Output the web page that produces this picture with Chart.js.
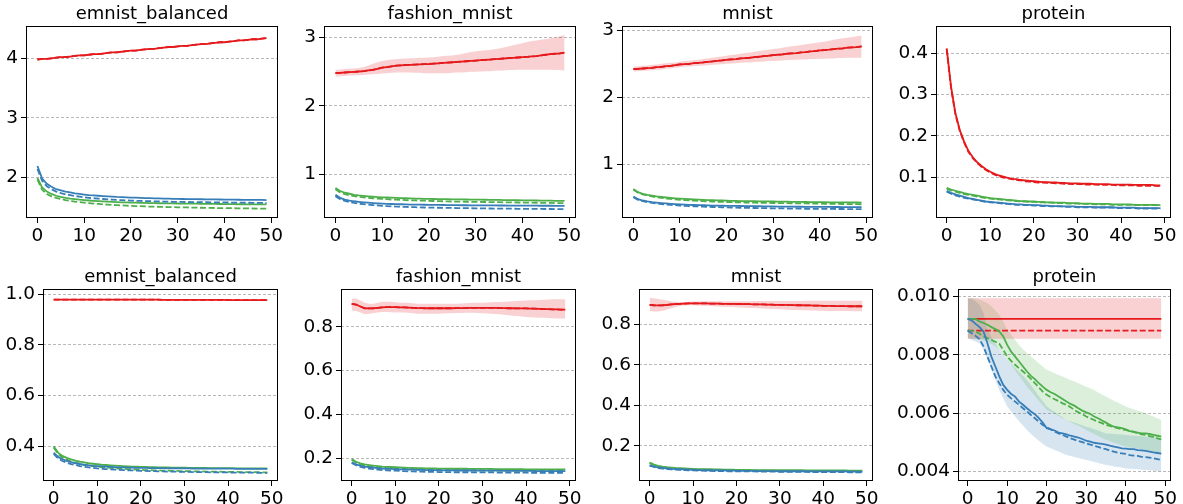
<!DOCTYPE html>
<html><head><meta charset="utf-8">
<script src="https://cdn.jsdelivr.net/npm/chart.js@4.4.1/dist/chart.umd.min.js"></script>
<style>
html,body{margin:0;padding:0;background:#fff;width:1183px;height:504px;overflow:hidden;position:relative}
canvas{position:absolute}
</style>
</head><body>
<script>
// ---------- data ----------
const epochs = [0,1,2,3,4,5,6,7,8,9,10,11,12,13,14,15,16,17,18,19,20,21,22,23,24,25,26,27,28,29,30,31,32,33,34,35,36,37,38,39,40,41,42,43,44,45,46,47,48,49];
const titles = ['emnist_balanced','fashion_mnist','mnist','protein','emnist_balanced','fashion_mnist','mnist','protein'];
const xTickValues = [0,10,20,30,40,50];
const xTickLabels = ['0','10','20','30','40','50'];
const yTickValues = [[2,3,4],[1,2,3],[1,2,3],[0.1,0.2,0.3,0.4],[0.4,0.6,0.8,1.0],[0.2,0.4,0.6,0.8],[0.2,0.4,0.6,0.8],[0.004,0.006,0.008,0.010]];
const yTickLabels = [['2','3','4'],['1','2','3'],['1','2','3'],['0.1','0.2','0.3','0.4'],['0.4','0.6','0.8','1.0'],['0.2','0.4','0.6','0.8'],['0.2','0.4','0.6','0.8'],['0.004','0.006','0.008','0.010']];

// panel 1: emnist_balanced (top)
const p1RedSolid = [3.98,3.99,3.99,4.00,4.01,4.02,4.02,4.03,4.04,4.05,4.05,4.06,4.07,4.07,4.08,4.09,4.10,4.10,4.11,4.12,4.13,4.13,4.14,4.15,4.16,4.16,4.17,4.18,4.19,4.19,4.20,4.21,4.21,4.22,4.23,4.24,4.24,4.25,4.26,4.27,4.27,4.28,4.29,4.30,4.30,4.31,4.32,4.32,4.33,4.34];
const p1RedDash = [3.98,3.99,3.99,4.00,4.01,4.02,4.02,4.03,4.04,4.05,4.05,4.06,4.07,4.07,4.08,4.09,4.10,4.10,4.11,4.12,4.13,4.13,4.14,4.15,4.16,4.16,4.17,4.18,4.19,4.19,4.20,4.21,4.21,4.22,4.23,4.24,4.24,4.25,4.26,4.27,4.27,4.28,4.29,4.30,4.30,4.31,4.32,4.32,4.33,4.34];
const p1BlueSolid = [2.19,1.98,1.89,1.84,1.80,1.78,1.76,1.745,1.73,1.72,1.71,1.70,1.695,1.69,1.685,1.68,1.675,1.67,1.667,1.663,1.66,1.657,1.654,1.651,1.649,1.647,1.645,1.643,1.641,1.639,1.637,1.635,1.634,1.633,1.632,1.631,1.630,1.629,1.628,1.627,1.626,1.625,1.624,1.623,1.622,1.621,1.620,1.620,1.619,1.618];
const p1BlueDash = [2.14,1.94,1.85,1.80,1.76,1.735,1.715,1.70,1.685,1.675,1.665,1.655,1.648,1.641,1.635,1.630,1.625,1.620,1.616,1.612,1.609,1.606,1.603,1.600,1.598,1.596,1.594,1.592,1.590,1.588,1.587,1.586,1.585,1.584,1.583,1.582,1.581,1.580,1.579,1.578,1.577,1.576,1.575,1.574,1.573,1.572,1.571,1.570,1.569,1.568];
const p1GreenSolid = [1.99,1.83,1.76,1.72,1.69,1.67,1.655,1.643,1.633,1.624,1.617,1.610,1.604,1.599,1.594,1.590,1.586,1.583,1.580,1.577,1.575,1.573,1.571,1.569,1.567,1.565,1.564,1.563,1.562,1.561,1.560,1.559,1.558,1.557,1.556,1.555,1.554,1.553,1.552,1.551,1.550,1.549,1.548,1.547,1.547,1.546,1.546,1.545,1.545,1.544];
const p1GreenDash = [1.96,1.79,1.72,1.68,1.655,1.635,1.618,1.604,1.592,1.582,1.573,1.565,1.558,1.552,1.546,1.541,1.536,1.532,1.528,1.524,1.520,1.517,1.514,1.511,1.508,1.506,1.504,1.502,1.500,1.498,1.496,1.494,1.493,1.491,1.490,1.488,1.487,1.486,1.484,1.483,1.482,1.481,1.480,1.479,1.478,1.477,1.476,1.475,1.474,1.473];

// panel 2: fashion_mnist (top)
const p2RedSolid = [2.48,2.485,2.49,2.495,2.50,2.505,2.51,2.52,2.53,2.545,2.56,2.57,2.58,2.59,2.595,2.60,2.603,2.606,2.609,2.612,2.615,2.62,2.625,2.63,2.635,2.64,2.645,2.65,2.655,2.66,2.665,2.67,2.675,2.68,2.685,2.69,2.695,2.70,2.705,2.71,2.715,2.72,2.725,2.73,2.74,2.75,2.76,2.765,2.77,2.78];
const p2RedDash = [2.48,2.485,2.49,2.495,2.50,2.505,2.51,2.52,2.53,2.545,2.56,2.57,2.58,2.59,2.595,2.60,2.603,2.606,2.609,2.612,2.615,2.62,2.625,2.63,2.635,2.64,2.645,2.65,2.655,2.66,2.665,2.67,2.675,2.68,2.685,2.69,2.695,2.70,2.705,2.71,2.715,2.72,2.725,2.73,2.74,2.75,2.76,2.765,2.77,2.78];
const p2RedHi = [2.53,2.535,2.54,2.545,2.55,2.555,2.57,2.59,2.62,2.64,2.66,2.67,2.68,2.685,2.69,2.695,2.70,2.70,2.705,2.705,2.71,2.715,2.72,2.73,2.735,2.74,2.75,2.76,2.775,2.79,2.80,2.81,2.815,2.82,2.83,2.84,2.855,2.87,2.89,2.905,2.92,2.935,2.95,2.96,2.97,2.98,2.99,3.00,3.02,3.04];
const p2RedLo = [2.43,2.435,2.44,2.445,2.45,2.45,2.455,2.46,2.465,2.47,2.475,2.48,2.485,2.49,2.49,2.49,2.49,2.485,2.485,2.48,2.48,2.48,2.48,2.48,2.48,2.485,2.49,2.49,2.495,2.50,2.50,2.505,2.51,2.51,2.515,2.52,2.52,2.525,2.525,2.53,2.53,2.53,2.53,2.53,2.53,2.53,2.53,2.525,2.525,2.52];
const p2GreenSolid = [0.80,0.755,0.73,0.715,0.70,0.69,0.683,0.677,0.672,0.667,0.663,0.66,0.657,0.654,0.651,0.649,0.647,0.645,0.643,0.641,0.639,0.638,0.637,0.636,0.635,0.634,0.633,0.632,0.631,0.630,0.629,0.628,0.627,0.626,0.625,0.624,0.623,0.622,0.621,0.620,0.619,0.618,0.617,0.616,0.615,0.614,0.613,0.612,0.611,0.610];
const p2GreenDash = [0.78,0.735,0.71,0.693,0.68,0.67,0.662,0.655,0.649,0.644,0.639,0.635,0.631,0.628,0.625,0.622,0.619,0.617,0.615,0.613,0.611,0.609,0.607,0.605,0.603,0.601,0.600,0.599,0.598,0.597,0.596,0.595,0.594,0.593,0.592,0.591,0.590,0.589,0.588,0.587,0.586,0.585,0.584,0.583,0.582,0.581,0.580,0.579,0.578,0.577];
const p2BlueSolid = [0.70,0.655,0.63,0.615,0.605,0.597,0.59,0.584,0.579,0.575,0.571,0.568,0.565,0.563,0.561,0.559,0.557,0.556,0.555,0.554,0.553,0.552,0.551,0.550,0.549,0.548,0.548,0.547,0.547,0.546,0.546,0.545,0.545,0.544,0.544,0.543,0.543,0.542,0.542,0.541,0.541,0.540,0.540,0.540,0.539,0.539,0.539,0.538,0.538,0.538];
const p2BlueDash = [0.68,0.635,0.61,0.593,0.58,0.57,0.562,0.555,0.549,0.544,0.539,0.535,0.531,0.528,0.525,0.522,0.52,0.518,0.516,0.514,0.512,0.511,0.51,0.509,0.508,0.507,0.506,0.505,0.504,0.503,0.502,0.501,0.500,0.499,0.498,0.497,0.497,0.496,0.496,0.495,0.495,0.494,0.494,0.493,0.493,0.492,0.492,0.491,0.491,0.490];

// panel 3: mnist (top)
const p3RedSolid = [2.42,2.425,2.43,2.435,2.44,2.45,2.455,2.465,2.47,2.48,2.49,2.495,2.50,2.51,2.515,2.52,2.53,2.535,2.545,2.55,2.56,2.565,2.57,2.58,2.585,2.59,2.60,2.605,2.615,2.62,2.63,2.635,2.64,2.65,2.655,2.66,2.67,2.675,2.685,2.69,2.70,2.705,2.71,2.72,2.725,2.73,2.74,2.745,2.75,2.76];
const p3RedDash = [2.42,2.425,2.43,2.435,2.44,2.45,2.455,2.465,2.47,2.48,2.49,2.495,2.50,2.51,2.515,2.52,2.53,2.535,2.545,2.55,2.56,2.565,2.57,2.58,2.585,2.59,2.60,2.605,2.615,2.62,2.63,2.635,2.64,2.65,2.655,2.66,2.67,2.675,2.685,2.69,2.70,2.705,2.71,2.72,2.725,2.73,2.74,2.745,2.75,2.76];
const p3RedHi = [2.46,2.465,2.47,2.475,2.485,2.49,2.50,2.51,2.515,2.52,2.53,2.54,2.545,2.555,2.56,2.57,2.58,2.59,2.60,2.61,2.62,2.63,2.64,2.65,2.66,2.67,2.68,2.69,2.70,2.71,2.72,2.73,2.74,2.75,2.76,2.77,2.78,2.79,2.80,2.81,2.82,2.83,2.845,2.86,2.87,2.88,2.89,2.90,2.91,2.92];
const p3RedLo = [2.385,2.39,2.395,2.40,2.405,2.41,2.415,2.425,2.43,2.44,2.45,2.455,2.46,2.465,2.47,2.475,2.48,2.485,2.49,2.495,2.50,2.505,2.51,2.515,2.52,2.52,2.525,2.53,2.535,2.54,2.54,2.545,2.55,2.555,2.56,2.56,2.565,2.565,2.57,2.57,2.575,2.575,2.58,2.58,2.585,2.585,2.59,2.59,2.59,2.59];
const p3GreenSolid = [0.63,0.585,0.56,0.545,0.533,0.522,0.513,0.505,0.498,0.492,0.487,0.483,0.479,0.475,0.472,0.469,0.466,0.464,0.462,0.460,0.458,0.456,0.454,0.452,0.451,0.450,0.449,0.448,0.447,0.446,0.445,0.444,0.443,0.442,0.441,0.440,0.439,0.438,0.437,0.436,0.435,0.434,0.433,0.432,0.432,0.431,0.431,0.430,0.430,0.429];
const p3GreenDash = [0.62,0.575,0.55,0.533,0.52,0.508,0.498,0.49,0.483,0.477,0.471,0.466,0.462,0.458,0.454,0.451,0.448,0.445,0.442,0.440,0.438,0.436,0.434,0.432,0.430,0.428,0.427,0.426,0.425,0.424,0.423,0.422,0.421,0.420,0.419,0.418,0.417,0.416,0.415,0.414,0.413,0.412,0.411,0.410,0.409,0.408,0.407,0.406,0.405,0.404];
const p3BlueSolid = [0.52,0.48,0.46,0.447,0.437,0.429,0.422,0.416,0.411,0.406,0.402,0.399,0.396,0.393,0.391,0.389,0.387,0.385,0.383,0.382,0.381,0.380,0.379,0.378,0.377,0.376,0.375,0.374,0.373,0.372,0.371,0.370,0.369,0.368,0.368,0.367,0.367,0.366,0.366,0.365,0.365,0.364,0.364,0.363,0.363,0.362,0.362,0.361,0.361,0.360];
const p3BlueDash = [0.51,0.47,0.45,0.436,0.425,0.416,0.408,0.401,0.395,0.39,0.385,0.381,0.377,0.374,0.371,0.368,0.365,0.363,0.361,0.359,0.357,0.355,0.353,0.351,0.350,0.349,0.348,0.347,0.346,0.345,0.344,0.343,0.342,0.341,0.340,0.339,0.338,0.337,0.336,0.336,0.335,0.335,0.334,0.334,0.333,0.333,0.332,0.332,0.331,0.331];

// panel 4: protein (top)
const p4RedSolid = [0.412,0.319,0.255,0.214,0.186,0.163,0.148,0.136,0.127,0.119,0.113,0.108,0.104,0.101,0.098,0.096,0.095,0.093,0.092,0.091,0.090,0.089,0.088,0.088,0.087,0.087,0.086,0.086,0.085,0.085,0.085,0.084,0.084,0.084,0.083,0.083,0.083,0.083,0.082,0.082,0.082,0.082,0.082,0.081,0.081,0.081,0.081,0.081,0.080,0.080];
const p4RedDash = [0.410,0.316,0.252,0.212,0.184,0.161,0.146,0.134,0.125,0.117,0.111,0.106,0.102,0.099,0.097,0.095,0.093,0.092,0.090,0.089,0.088,0.087,0.087,0.086,0.086,0.085,0.085,0.084,0.084,0.083,0.083,0.083,0.082,0.082,0.082,0.081,0.081,0.081,0.081,0.080,0.080,0.080,0.080,0.080,0.079,0.079,0.079,0.079,0.079,0.078];
const p4GreenSolid = [0.074,0.070,0.067,0.064,0.061,0.059,0.057,0.055,0.053,0.051,0.049,0.048,0.047,0.046,0.045,0.044,0.043,0.042,0.042,0.041,0.041,0.040,0.040,0.039,0.039,0.038,0.038,0.038,0.037,0.037,0.037,0.036,0.036,0.036,0.035,0.035,0.035,0.035,0.034,0.034,0.034,0.034,0.034,0.033,0.033,0.033,0.033,0.033,0.033,0.032];
const p4GreenDash = [0.072,0.068,0.065,0.062,0.059,0.057,0.055,0.053,0.051,0.049,0.048,0.047,0.046,0.045,0.044,0.043,0.042,0.041,0.041,0.040,0.040,0.039,0.039,0.038,0.038,0.037,0.037,0.037,0.036,0.036,0.036,0.035,0.035,0.035,0.034,0.034,0.034,0.034,0.033,0.033,0.033,0.033,0.033,0.032,0.032,0.032,0.032,0.032,0.032,0.031];
const p4BlueSolid = [0.067,0.062,0.058,0.055,0.052,0.049,0.047,0.045,0.043,0.041,0.040,0.039,0.038,0.037,0.036,0.035,0.034,0.034,0.033,0.033,0.032,0.032,0.031,0.031,0.030,0.030,0.030,0.029,0.029,0.029,0.028,0.028,0.028,0.028,0.027,0.027,0.027,0.027,0.027,0.026,0.026,0.026,0.026,0.026,0.025,0.025,0.025,0.025,0.025,0.025];
const p4BlueDash = [0.065,0.060,0.056,0.053,0.050,0.048,0.046,0.044,0.042,0.040,0.039,0.038,0.037,0.036,0.035,0.034,0.033,0.033,0.032,0.032,0.031,0.031,0.030,0.030,0.029,0.029,0.029,0.028,0.028,0.028,0.027,0.027,0.027,0.027,0.026,0.026,0.026,0.026,0.026,0.025,0.025,0.025,0.025,0.025,0.024,0.024,0.024,0.024,0.024,0.024];

// panel 5: emnist_balanced (bottom)
const p5RedSolid = [0.978,0.978,0.978,0.978,0.978,0.978,0.978,0.978,0.978,0.978,0.978,0.978,0.978,0.978,0.978,0.978,0.978,0.978,0.978,0.978,0.978,0.978,0.978,0.978,0.978,0.977,0.977,0.977,0.977,0.977,0.977,0.977,0.977,0.977,0.977,0.977,0.977,0.977,0.977,0.977,0.976,0.976,0.976,0.976,0.976,0.976,0.976,0.976,0.976,0.976];
const p5RedDash = [0.978,0.978,0.978,0.978,0.978,0.978,0.978,0.978,0.978,0.978,0.978,0.978,0.978,0.978,0.978,0.978,0.978,0.978,0.978,0.978,0.978,0.978,0.978,0.978,0.978,0.977,0.977,0.977,0.977,0.977,0.977,0.977,0.977,0.977,0.977,0.977,0.977,0.977,0.977,0.977,0.976,0.976,0.976,0.976,0.976,0.976,0.976,0.976,0.976,0.976];
const p5GreenSolid = [0.40,0.375,0.362,0.354,0.348,0.343,0.339,0.336,0.333,0.331,0.329,0.327,0.326,0.325,0.324,0.323,0.322,0.321,0.320,0.320,0.319,0.319,0.318,0.318,0.317,0.317,0.317,0.316,0.316,0.316,0.316,0.315,0.315,0.315,0.315,0.315,0.314,0.314,0.314,0.314,0.314,0.314,0.313,0.313,0.313,0.313,0.313,0.313,0.313,0.313];
const p5GreenDash = [0.395,0.37,0.356,0.347,0.340,0.335,0.331,0.327,0.324,0.322,0.320,0.318,0.316,0.315,0.313,0.312,0.311,0.310,0.309,0.308,0.307,0.306,0.306,0.305,0.305,0.304,0.304,0.303,0.303,0.302,0.302,0.302,0.301,0.301,0.301,0.300,0.300,0.300,0.300,0.299,0.299,0.299,0.299,0.298,0.298,0.298,0.298,0.298,0.297,0.297];
const p5BlueSolid = [0.375,0.358,0.349,0.342,0.337,0.333,0.330,0.327,0.325,0.323,0.322,0.321,0.320,0.319,0.318,0.317,0.317,0.316,0.316,0.315,0.315,0.315,0.314,0.314,0.314,0.314,0.313,0.313,0.313,0.313,0.313,0.313,0.312,0.312,0.312,0.312,0.312,0.312,0.312,0.312,0.312,0.312,0.311,0.311,0.311,0.311,0.311,0.311,0.311,0.311];
const p5BlueDash = [0.37,0.352,0.342,0.335,0.330,0.326,0.322,0.319,0.317,0.315,0.313,0.311,0.310,0.309,0.308,0.307,0.306,0.305,0.305,0.304,0.303,0.303,0.302,0.302,0.301,0.301,0.300,0.300,0.300,0.299,0.299,0.299,0.298,0.298,0.298,0.298,0.297,0.297,0.297,0.297,0.297,0.296,0.296,0.296,0.296,0.296,0.296,0.295,0.295,0.295];

// panel 6: fashion_mnist (bottom)
const p6RedSolid = [0.905,0.902,0.893,0.885,0.884,0.885,0.887,0.889,0.890,0.890,0.890,0.889,0.889,0.888,0.887,0.886,0.886,0.885,0.885,0.885,0.885,0.885,0.885,0.885,0.886,0.886,0.886,0.887,0.887,0.887,0.887,0.887,0.887,0.887,0.886,0.886,0.885,0.885,0.884,0.884,0.884,0.883,0.883,0.882,0.881,0.881,0.880,0.880,0.879,0.879];
const p6RedDash = [0.905,0.902,0.893,0.885,0.884,0.885,0.887,0.889,0.890,0.890,0.890,0.889,0.889,0.888,0.887,0.886,0.886,0.885,0.885,0.885,0.885,0.885,0.885,0.885,0.886,0.886,0.886,0.887,0.887,0.887,0.887,0.887,0.887,0.887,0.886,0.886,0.885,0.885,0.884,0.884,0.884,0.883,0.883,0.882,0.881,0.881,0.880,0.880,0.879,0.879];
const p6RedHi = [0.93,0.93,0.92,0.91,0.905,0.905,0.91,0.915,0.915,0.915,0.912,0.91,0.91,0.91,0.908,0.906,0.905,0.905,0.905,0.905,0.905,0.905,0.905,0.905,0.906,0.907,0.908,0.909,0.91,0.91,0.91,0.911,0.912,0.913,0.914,0.915,0.916,0.917,0.918,0.919,0.92,0.921,0.922,0.923,0.924,0.925,0.926,0.926,0.926,0.926];
const p6RedLo = [0.875,0.872,0.865,0.858,0.86,0.863,0.866,0.868,0.868,0.867,0.866,0.866,0.865,0.864,0.862,0.86,0.86,0.86,0.86,0.86,0.86,0.861,0.862,0.862,0.863,0.863,0.864,0.864,0.864,0.863,0.862,0.861,0.86,0.859,0.857,0.855,0.853,0.851,0.849,0.847,0.845,0.844,0.843,0.842,0.841,0.84,0.839,0.838,0.838,0.838];
const p6GreenSolid = [0.195,0.183,0.176,0.171,0.168,0.165,0.163,0.161,0.160,0.159,0.158,0.157,0.156,0.155,0.155,0.154,0.154,0.153,0.153,0.153,0.152,0.152,0.152,0.151,0.151,0.151,0.151,0.150,0.150,0.150,0.150,0.150,0.150,0.149,0.149,0.149,0.149,0.149,0.149,0.149,0.148,0.148,0.148,0.148,0.148,0.148,0.148,0.148,0.148,0.148];
const p6GreenDash = [0.192,0.180,0.172,0.167,0.163,0.160,0.158,0.156,0.154,0.153,0.152,0.151,0.150,0.149,0.149,0.148,0.148,0.147,0.147,0.146,0.146,0.146,0.145,0.145,0.145,0.145,0.144,0.144,0.144,0.144,0.144,0.143,0.143,0.143,0.143,0.143,0.143,0.142,0.142,0.142,0.142,0.142,0.142,0.142,0.141,0.141,0.141,0.141,0.141,0.141];
const p6BlueSolid = [0.180,0.171,0.165,0.161,0.158,0.156,0.154,0.152,0.151,0.150,0.149,0.148,0.148,0.147,0.147,0.146,0.146,0.145,0.145,0.145,0.144,0.144,0.144,0.144,0.143,0.143,0.143,0.143,0.143,0.142,0.142,0.142,0.142,0.142,0.142,0.141,0.141,0.141,0.141,0.141,0.141,0.141,0.140,0.140,0.140,0.140,0.140,0.140,0.140,0.140];
const p6BlueDash = [0.177,0.167,0.160,0.155,0.152,0.149,0.147,0.145,0.144,0.143,0.142,0.141,0.140,0.139,0.139,0.138,0.138,0.137,0.137,0.137,0.136,0.136,0.136,0.135,0.135,0.135,0.135,0.135,0.134,0.134,0.134,0.134,0.134,0.134,0.133,0.133,0.133,0.133,0.133,0.133,0.133,0.133,0.132,0.132,0.132,0.132,0.132,0.132,0.132,0.132];

// panel 7: mnist (bottom)
const p7RedSolid = [0.895,0.893,0.892,0.893,0.895,0.897,0.899,0.900,0.901,0.902,0.902,0.902,0.902,0.902,0.901,0.901,0.901,0.900,0.900,0.900,0.899,0.899,0.898,0.898,0.897,0.897,0.897,0.896,0.896,0.895,0.895,0.895,0.894,0.894,0.893,0.893,0.892,0.892,0.891,0.891,0.890,0.890,0.890,0.889,0.889,0.889,0.888,0.888,0.888,0.888];
const p7RedDash = [0.895,0.893,0.892,0.893,0.895,0.897,0.899,0.900,0.901,0.902,0.902,0.902,0.902,0.902,0.901,0.901,0.901,0.900,0.900,0.900,0.899,0.899,0.898,0.898,0.897,0.897,0.897,0.896,0.896,0.895,0.895,0.895,0.894,0.894,0.893,0.893,0.892,0.892,0.891,0.891,0.890,0.890,0.890,0.889,0.889,0.889,0.888,0.888,0.888,0.888];
const p7RedHi = [0.930,0.928,0.924,0.920,0.916,0.912,0.910,0.909,0.909,0.910,0.911,0.912,0.913,0.913,0.913,0.913,0.913,0.913,0.913,0.913,0.913,0.913,0.913,0.913,0.914,0.914,0.914,0.914,0.914,0.914,0.914,0.914,0.914,0.914,0.914,0.914,0.915,0.915,0.915,0.915,0.915,0.915,0.915,0.915,0.915,0.915,0.915,0.915,0.915,0.915];
const p7RedLo = [0.865,0.862,0.862,0.866,0.872,0.878,0.884,0.889,0.892,0.893,0.893,0.892,0.891,0.890,0.889,0.888,0.887,0.886,0.885,0.884,0.883,0.882,0.881,0.880,0.879,0.878,0.877,0.876,0.875,0.874,0.873,0.872,0.871,0.870,0.869,0.868,0.868,0.867,0.867,0.866,0.866,0.865,0.865,0.865,0.864,0.864,0.864,0.863,0.863,0.863];
const p7GreenSolid = [0.118,0.108,0.102,0.098,0.095,0.093,0.091,0.090,0.089,0.088,0.087,0.086,0.086,0.085,0.085,0.084,0.084,0.083,0.083,0.083,0.082,0.082,0.082,0.082,0.081,0.081,0.081,0.081,0.081,0.080,0.080,0.080,0.080,0.080,0.080,0.080,0.079,0.079,0.079,0.079,0.079,0.079,0.079,0.079,0.079,0.079,0.078,0.078,0.078,0.078];
const p7GreenDash = [0.116,0.106,0.099,0.095,0.092,0.090,0.088,0.087,0.086,0.085,0.084,0.083,0.083,0.082,0.082,0.081,0.081,0.080,0.080,0.080,0.079,0.079,0.079,0.079,0.078,0.078,0.078,0.078,0.078,0.077,0.077,0.077,0.077,0.077,0.077,0.077,0.076,0.076,0.076,0.076,0.076,0.076,0.076,0.076,0.076,0.076,0.075,0.075,0.075,0.075];
const p7BlueSolid = [0.105,0.098,0.094,0.091,0.089,0.087,0.086,0.085,0.084,0.083,0.082,0.081,0.081,0.080,0.080,0.079,0.079,0.079,0.078,0.078,0.078,0.077,0.077,0.077,0.077,0.076,0.076,0.076,0.076,0.076,0.075,0.075,0.075,0.075,0.075,0.075,0.075,0.074,0.074,0.074,0.074,0.074,0.074,0.074,0.074,0.074,0.073,0.073,0.073,0.073];
const p7BlueDash = [0.103,0.096,0.091,0.088,0.086,0.084,0.083,0.082,0.081,0.080,0.079,0.078,0.078,0.077,0.077,0.076,0.076,0.076,0.075,0.075,0.075,0.074,0.074,0.074,0.074,0.073,0.073,0.073,0.073,0.073,0.072,0.072,0.072,0.072,0.072,0.072,0.072,0.071,0.071,0.071,0.071,0.071,0.071,0.071,0.071,0.071,0.070,0.070,0.070,0.070];

// panel 8: protein (bottom)
const p8RedSolid = [0.00923,0.00923,0.00923,0.00923,0.00923,0.00923,0.00923,0.00923,0.00923,0.00923,0.00923,0.00923,0.00923,0.00923,0.00923,0.00923,0.00923,0.00923,0.00923,0.00923,0.00923,0.00923,0.00923,0.00923,0.00923,0.00923,0.00923,0.00923,0.00923,0.00923,0.00923,0.00923,0.00923,0.00923,0.00923,0.00923,0.00923,0.00923,0.00923,0.00923,0.00923,0.00923,0.00923,0.00923,0.00923,0.00923,0.00923,0.00923,0.00923,0.00923];
const p8RedDash = [0.00883,0.00883,0.00883,0.00883,0.00883,0.00883,0.00883,0.00883,0.00883,0.00883,0.00883,0.00883,0.00883,0.00883,0.00883,0.00883,0.00883,0.00883,0.00883,0.00883,0.00883,0.00883,0.00883,0.00883,0.00883,0.00883,0.00883,0.00883,0.00883,0.00883,0.00883,0.00883,0.00883,0.00883,0.00883,0.00883,0.00883,0.00883,0.00883,0.00883,0.00883,0.00883,0.00883,0.00883,0.00883,0.00883,0.00883,0.00883,0.00883,0.00883];
const p8RedHi = [0.00994,0.00994,0.00994,0.00994,0.00994,0.00994,0.00994,0.00994,0.00994,0.00994,0.00994,0.00994,0.00994,0.00994,0.00994,0.00994,0.00994,0.00994,0.00994,0.00994,0.00994,0.00994,0.00994,0.00994,0.00994,0.00994,0.00994,0.00994,0.00994,0.00994,0.00994,0.00994,0.00994,0.00994,0.00994,0.00994,0.00994,0.00994,0.00994,0.00994,0.00994,0.00994,0.00994,0.00994,0.00994,0.00994,0.00994,0.00994,0.00994,0.00994];
const p8RedLo = [0.00855,0.00855,0.00855,0.00855,0.00855,0.00855,0.00855,0.00855,0.00855,0.00855,0.00855,0.00855,0.00855,0.00855,0.00855,0.00855,0.00855,0.00855,0.00855,0.00855,0.00855,0.00855,0.00855,0.00855,0.00855,0.00855,0.00855,0.00855,0.00855,0.00855,0.00855,0.00855,0.00855,0.00855,0.00855,0.00855,0.00855,0.00855,0.00855,0.00855,0.00855,0.00855,0.00855,0.00855,0.00855,0.00855,0.00855,0.00855,0.00855,0.00855];
const p8GreenSolid = [0.00923,0.00923,0.00923,0.00914,0.00909,0.00903,0.00895,0.00888,0.00880,0.00863,0.00834,0.00811,0.00794,0.00777,0.00760,0.00743,0.00728,0.00717,0.00703,0.00691,0.00680,0.00672,0.00666,0.00657,0.00649,0.00640,0.00632,0.00626,0.00617,0.00609,0.00603,0.00598,0.00589,0.00583,0.00575,0.00568,0.00560,0.00554,0.00552,0.00549,0.00545,0.00539,0.00537,0.00534,0.00531,0.00531,0.00529,0.00526,0.00523,0.00520];
const p8GreenDash = [0.00883,0.00882,0.00880,0.00872,0.00863,0.00857,0.00851,0.00845,0.00838,0.00817,0.00794,0.00779,0.00766,0.00754,0.00743,0.00731,0.00718,0.00703,0.00689,0.00674,0.00663,0.00655,0.00648,0.00642,0.00634,0.00629,0.00621,0.00611,0.00603,0.00597,0.00589,0.00583,0.00577,0.00571,0.00566,0.00560,0.00557,0.00552,0.00549,0.00545,0.00543,0.00539,0.00536,0.00531,0.00528,0.00526,0.00522,0.00519,0.00514,0.00511];
const p8GreenHi = [0.00994,0.00994,0.00992,0.00989,0.00983,0.00977,0.00966,0.00952,0.00937,0.00914,0.00886,0.00869,0.00851,0.00834,0.00819,0.00806,0.00794,0.00783,0.00771,0.00760,0.00749,0.00743,0.00737,0.00731,0.00726,0.00720,0.00714,0.00709,0.00703,0.00697,0.00691,0.00686,0.00680,0.00671,0.00664,0.00657,0.00650,0.00643,0.00637,0.00630,0.00623,0.00618,0.00614,0.00609,0.00605,0.00600,0.00594,0.00589,0.00583,0.00577];
const p8GreenLo = [0.00857,0.00856,0.00854,0.00851,0.00849,0.00846,0.00838,0.00829,0.00817,0.00800,0.00783,0.00766,0.00746,0.00728,0.00710,0.00691,0.00675,0.00659,0.00643,0.00627,0.00611,0.00605,0.00598,0.00591,0.00584,0.00577,0.00570,0.00563,0.00557,0.00550,0.00543,0.00536,0.00529,0.00522,0.00515,0.00509,0.00504,0.00499,0.00495,0.00490,0.00486,0.00483,0.00481,0.00479,0.00477,0.00474,0.00471,0.00469,0.00465,0.00463];
const p8BlueSolid = [0.00923,0.00918,0.00906,0.00895,0.00880,0.00840,0.00794,0.00760,0.00726,0.00697,0.00680,0.00666,0.00657,0.00640,0.00629,0.00617,0.00606,0.00597,0.00583,0.00568,0.00549,0.00545,0.00541,0.00534,0.00531,0.00528,0.00523,0.00520,0.00517,0.00512,0.00506,0.00503,0.00499,0.00497,0.00495,0.00493,0.00489,0.00486,0.00483,0.00480,0.00479,0.00477,0.00477,0.00474,0.00473,0.00471,0.00469,0.00466,0.00464,0.00462];
const p8BlueDash = [0.00883,0.00874,0.00865,0.00854,0.00829,0.00794,0.00760,0.00726,0.00703,0.00680,0.00663,0.00651,0.00640,0.00629,0.00617,0.00606,0.00594,0.00583,0.00571,0.00560,0.00552,0.00545,0.00537,0.00531,0.00526,0.00520,0.00514,0.00510,0.00505,0.00501,0.00497,0.00493,0.00488,0.00485,0.00480,0.00477,0.00472,0.00469,0.00465,0.00463,0.00461,0.00457,0.00455,0.00454,0.00451,0.00450,0.00448,0.00446,0.00443,0.00440];
const p8BlueHi = [0.00994,0.00991,0.00983,0.00971,0.00943,0.00886,0.00861,0.00838,0.00817,0.00800,0.00783,0.00769,0.00755,0.00742,0.00728,0.00714,0.00696,0.00678,0.00659,0.00641,0.00623,0.00614,0.00605,0.00595,0.00586,0.00577,0.00573,0.00568,0.00563,0.00559,0.00554,0.00550,0.00545,0.00541,0.00536,0.00531,0.00530,0.00529,0.00528,0.00527,0.00526,0.00525,0.00523,0.00522,0.00521,0.00520,0.00519,0.00518,0.00517,0.00514];
const p8BlueLo = [0.00857,0.00851,0.00846,0.00840,0.00817,0.00783,0.00749,0.00714,0.00680,0.00651,0.00623,0.00606,0.00589,0.00573,0.00558,0.00543,0.00529,0.00518,0.00506,0.00496,0.00486,0.00480,0.00474,0.00469,0.00463,0.00457,0.00454,0.00450,0.00447,0.00443,0.00440,0.00437,0.00433,0.00430,0.00426,0.00423,0.00421,0.00418,0.00416,0.00414,0.00411,0.00410,0.00409,0.00408,0.00407,0.00406,0.00405,0.00403,0.00402,0.00400];

// ---------- styling / layout ----------
const RED = '#e41a1c', GREEN = '#4daf4a', BLUE = '#377eb8';
const RED_BAND = 'rgba(228,26,28,0.2)', GREEN_BAND = 'rgba(77,175,74,0.2)', BLUE_BAND = 'rgba(55,126,184,0.2)';
const FONT = 'DejaVu Sans';
const TICK_SIZE = 18.5, TITLE_SIZE = 18;

// plot-area boxes [left, top, right, bottom], y-axis gutter, y range
const panels = [
  {box:[26,26,278,218],   yw:26, ymin:1.316, ymax:4.543,
   lines:[[p1RedSolid,p1RedDash],[p1GreenSolid,p1GreenDash],[p1BlueSolid,p1BlueDash]], bands:[]},
  {box:[324,26,576,218],  yw:60, ymin:0.360, ymax:3.171,
   lines:[[p2RedSolid,p2RedDash],[p2GreenSolid,p2GreenDash],[p2BlueSolid,p2BlueDash]], bands:[[p2RedLo,p2RedHi,RED_BAND]]},
  {box:[622,26,873,218],  yw:60, ymin:0.199, ymax:3.064,
   lines:[[p3RedSolid,p3RedDash],[p3GreenSolid,p3GreenDash],[p3BlueSolid,p3BlueDash]], bands:[[p3RedLo,p3RedHi,RED_BAND]]},
  {box:[936,26,1171,218], yw:60, ymin:0.001, ymax:0.466,
   lines:[[p4RedSolid,p4RedDash],[p4GreenSolid,p4GreenDash],[p4BlueSolid,p4BlueDash]], bands:[]},
  {box:[43,289,278,481],  yw:43, ymin:0.263, ymax:1.020,
   lines:[[p5RedSolid,p5RedDash],[p5GreenSolid,p5GreenDash],[p5BlueSolid,p5BlueDash]], bands:[]},
  {box:[341,289,576,481], yw:60, ymin:0.095, ymax:0.973,
   lines:[[p6RedSolid,p6RedDash],[p6GreenSolid,p6GreenDash],[p6BlueSolid,p6BlueDash]], bands:[[p6RedLo,p6RedHi,RED_BAND]]},
  {box:[639,289,873,481], yw:60, ymin:0.027, ymax:0.973,
   lines:[[p7RedSolid,p7RedDash],[p7GreenSolid,p7GreenDash],[p7BlueSolid,p7BlueDash]], bands:[[p7RedLo,p7RedHi,RED_BAND]]},
  {box:[958,289,1171,481],yw:60, ymin:0.003681, ymax:0.010254,
   lines:[[p8RedSolid,p8RedDash],[p8GreenSolid,p8GreenDash],[p8BlueSolid,p8BlueDash]],
   bands:[[p8RedLo,p8RedHi,RED_BAND],[p8GreenLo,p8GreenHi,GREEN_BAND],[p8BlueLo,p8BlueHi,BLUE_BAND]]}
];
const LINE_COLORS = [RED, GREEN, BLUE];
const TOP_GAP = 30, BOTTOM_GAP = 30, RIGHT_GAP = 14;

const pts = arr => arr.map((v, i) => ({x: epochs[i], y: v}));

const framePlugin = {
  id: 'frame',
  afterLayout(chart) {
    const t = chart.titleBlock, a = chart.chartArea;
    if (t) { t.left = a.left; t.right = a.right; t.width = a.right - a.left; }
  },
  afterDraw(chart) {
    const {ctx, chartArea: a} = chart;
    ctx.save();
    ctx.strokeStyle = '#000';
    ctx.lineWidth = 1;
    ctx.strokeRect(Math.round(a.left) + 0.5, Math.round(a.top) + 0.5, Math.round(a.right - a.left) - 1, Math.round(a.bottom - a.top) - 1);
    ctx.restore();
  }
};

panels.forEach((p, idx) => {
  const [L, T, R, B] = p.box;
  const cv = document.createElement('canvas');
  const w = p.yw + (R - L) + RIGHT_GAP, h = TOP_GAP + (B - T) + BOTTOM_GAP;
  cv.width = w; cv.height = h;
  cv.style.left = (L - p.yw) + 'px';
  cv.style.top = (T - TOP_GAP) + 'px';
  cv.style.width = w + 'px'; cv.style.height = h + 'px';
  document.body.appendChild(cv);

  const datasets = [];
  p.bands.forEach(([lo, hi, col]) => {
    datasets.push({data: pts(lo), borderWidth: 0, borderColor: 'transparent', pointRadius: 0, fill: false, order: 10});
    datasets.push({data: pts(hi), borderWidth: 0, borderColor: 'transparent', pointRadius: 0, fill: '-1', backgroundColor: col, order: 10});
  });
  p.lines.forEach(([solid, dash], c) => {
    datasets.push({data: pts(solid), borderColor: LINE_COLORS[c], borderWidth: 1.8, pointRadius: 0, fill: false, tension: 0, order: 3 - c});
    datasets.push({data: pts(dash), borderColor: LINE_COLORS[c], borderWidth: 1.8, borderDash: [6, 2.6], pointRadius: 0, fill: false, tension: 0, order: 3 - c});
  });

  const yVals = yTickValues[idx], yLabs = yTickLabels[idx];
  new Chart(cv, {
    type: 'line',
    data: {datasets},
    options: {
      responsive: false, animation: false, devicePixelRatio: 1,
      layout: {padding: {left: 0, right: RIGHT_GAP, top: 0, bottom: 0}},
      plugins: {
        legend: {display: false}, tooltip: {enabled: false},
        title: {display: true, text: titles[idx], color: '#000',
                font: {family: FONT, size: TITLE_SIZE, weight: 'normal', lineHeight: 1.2},
                padding: {top: 7.2, bottom: 1.2}}
      },
      scales: {
        x: {
          type: 'linear', min: -2.45, max: 51.45,
          afterBuildTicks: s => { s.ticks = xTickValues.map(v => ({value: v})); },
          afterFit: s => { s.height = BOTTOM_GAP; s.paddingLeft = 0; s.paddingRight = 0; },
          ticks: {autoSkip: false, maxRotation: 0, padding: 2, color: '#000',
                  font: {family: FONT, size: TICK_SIZE}, callback: (v, i) => xTickLabels[i]},
          grid: {display: true, drawOnChartArea: false, drawTicks: true, tickLength: 5, tickColor: '#000', tickWidth: 1},
          border: {display: false}
        },
        y: {
          type: 'linear', min: p.ymin, max: p.ymax,
          afterBuildTicks: s => { s.ticks = yVals.map(v => ({value: v})); },
          afterFit: s => { s.width = p.yw; s.paddingTop = 0; s.paddingBottom = 0; },
          ticks: {autoSkip: false, padding: 3, color: '#000',
                  font: {family: FONT, size: TICK_SIZE}, callback: (v, i) => yLabs[i]},
          grid: {display: true, drawOnChartArea: true, color: '#b8b8b8', lineWidth: 1,
                 drawTicks: true, tickLength: 5, tickColor: '#000', tickWidth: 1, tickBorderDash: []},
          border: {display: false, dash: [3, 2]}
        }
      }
    },
    plugins: [framePlugin]
  });
});
</script>
</body></html>
